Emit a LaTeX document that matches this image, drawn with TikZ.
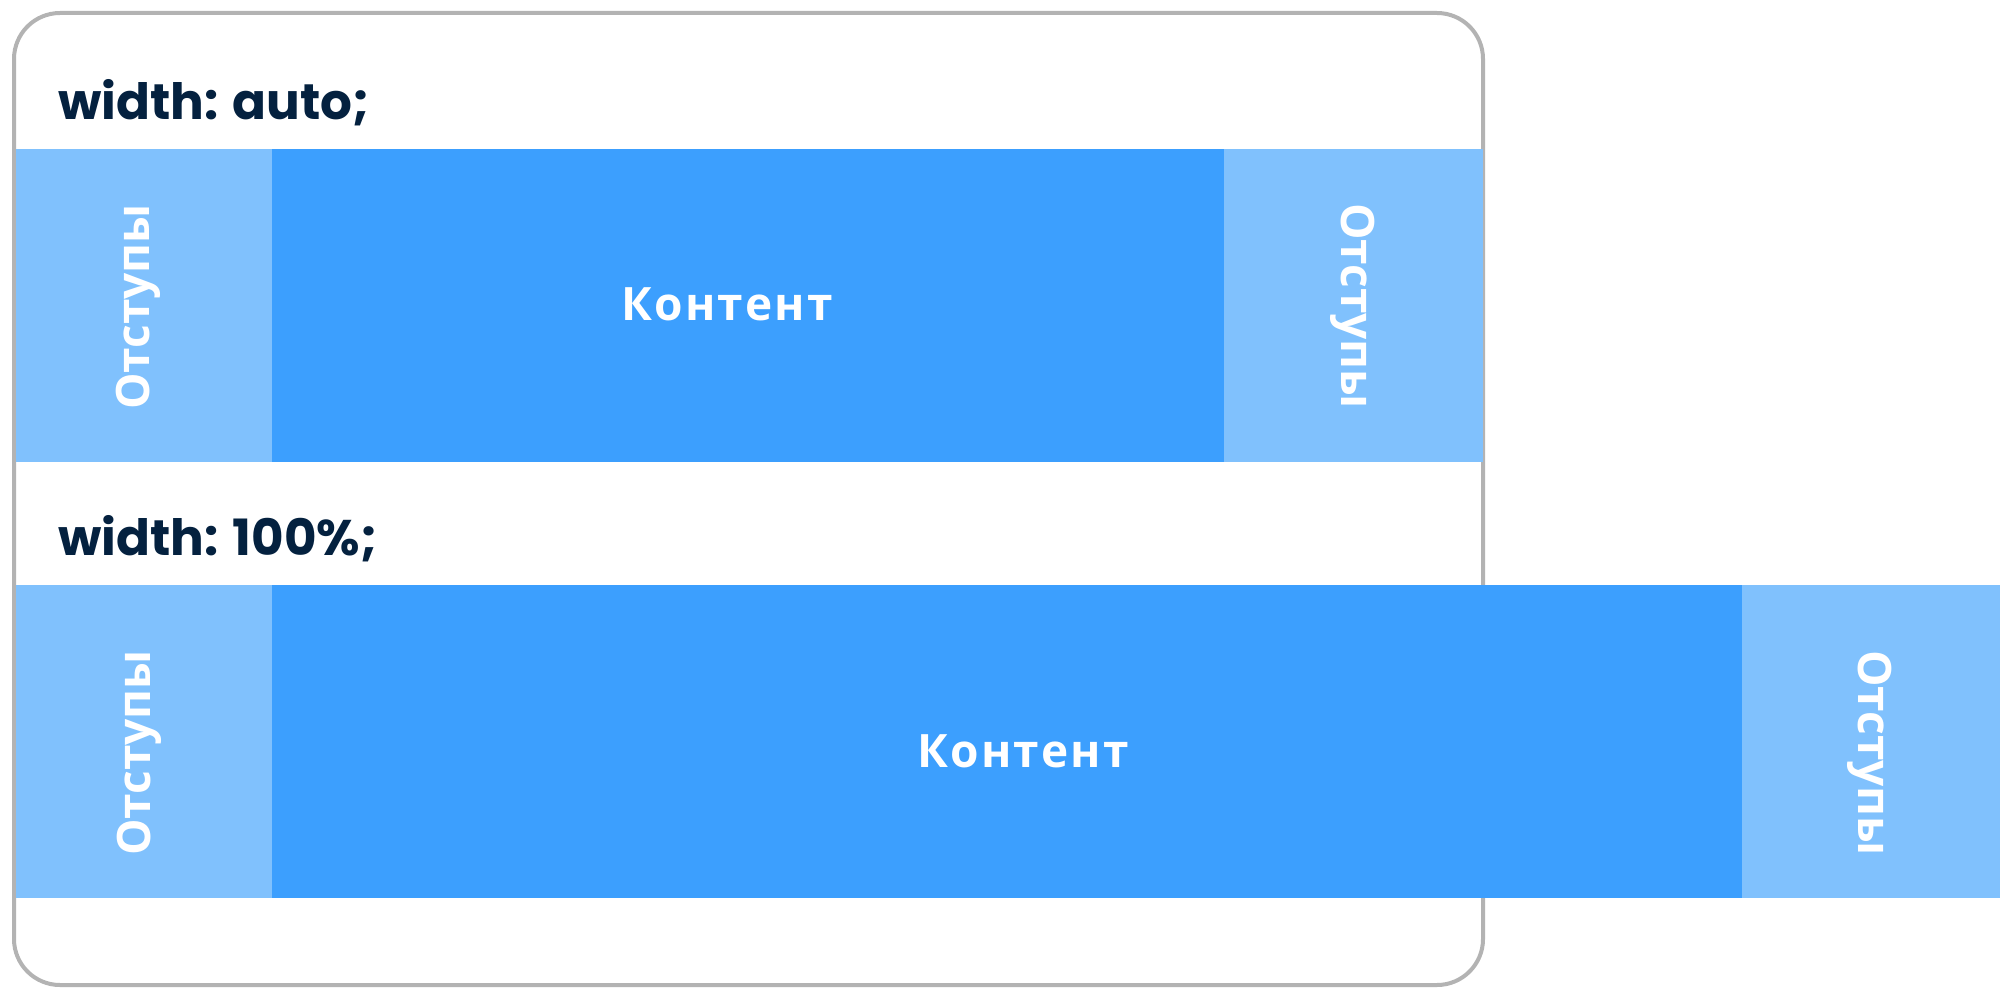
\documentclass[tikz,border=0pt]{standalone}
\usepackage{fontspec}
\setmainfont{Poppins}
\newfontfamily\cyrfont{Open Sans}
\newfontfamily\cyrwide{Open Sans}[LetterSpace=5]
\usepackage{tikz}
\usetikzlibrary{positioning}
\definecolor{padblue}{HTML}{80C1FD}
\definecolor{contentblue}{HTML}{3C9FFE}
\definecolor{inkblue}{HTML}{04213F}
\definecolor{framegray}{HTML}{B3B3B3}

\begin{document}
\begin{tikzpicture}[x=0.5pt,y=-0.5pt,
	label/.style={anchor=base west,inner sep=0pt,text=inkblue,font=\bfseries\fontsize{25}{30}\selectfont},
	word/.style={anchor=base,inner sep=0pt,text=white,font=\cyrfont\bfseries\fontsize{23}{28}\selectfont},
	wideword/.style={word,font=\cyrwide\bfseries\fontsize{23}{28}\selectfont}]

	\useasboundingbox (0,0) rectangle (2000,1000);

	% frame
	\draw [framegray, line width=2pt, rounded corners=23pt] (14,13) rectangle (1483,985);

	% width: auto
	\node[label] (autolbl) at (58,120) {width: auto;};
	\fill [padblue] (16,149) rectangle (272,462);
	\fill [contentblue] (272,149) rectangle (1224,462);
	\fill [padblue] (1224,149) rectangle (1483,462);
	\node[wideword] (autoc) at (727,320) {Контент};
	\node[word, rotate=90] (autol) at (149,307) {Отступы};
	\node[word, rotate=-90] (autor) at (1341,306) {Отступы};

	% width: 100%
	\node[label] (fulllbl) at (58,555) {width: 100\%;};
	\fill [padblue] (16,585) rectangle (272,898);
	\fill [contentblue] (272,585) rectangle (1742,898);
	\fill [padblue] (1742,585) rectangle (2000,898);
	\node[wideword] (fullc) at (1023,767) {Контент};
	\node[word, rotate=90] (fulll) at (150,753) {Отступы};
	\node[word, rotate=-90] (fullr) at (1858,753) {Отступы};

\end{tikzpicture}
\end{document}
